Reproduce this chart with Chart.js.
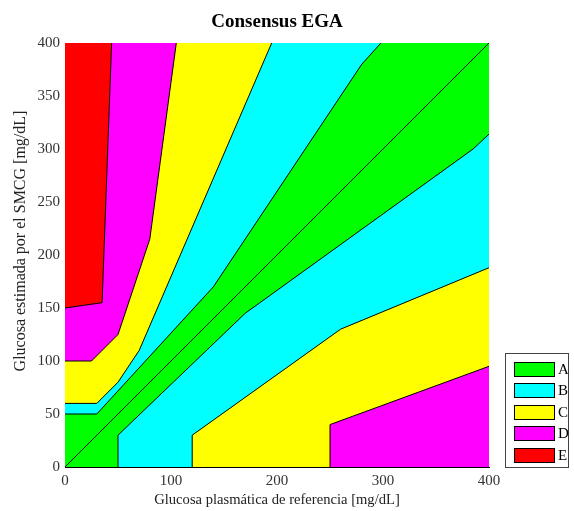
<!DOCTYPE html>
<html>
<head>
<meta charset="utf-8">
<script src="https://cdn.jsdelivr.net/npm/chart.js@4"></script>
<style>html,body{margin:0;padding:0;background:#fff;}canvas{display:block;}</style>
</head>
<body>
<canvas id="c" width="574" height="511"></canvas>
<script>
const zoneNames = ['A', 'B', 'C', 'D', 'E'];
const zoneColors = ['#00ff00', '#00ffff', '#ffff00', '#ff00ff', '#ff0000'];
const xTicks = [0, 100, 200, 300, 400];
const yTicks = [0, 50, 100, 150, 200, 250, 300, 350, 400];
const yTitle = 'Glucosa estimada por el SMCG [mg/dL]';

// zone boundaries [reference, sensor]
const upperA = [[0,50],[30,50],[140,170],[280,380],[298,400]];
const lowerA = [[50,0],[50,30],[170,145],[385,300],[400,314]];
const upperB = [[0,60],[30,60],[50,80],[70,110],[195,400]];
const lowerB = [[120,0],[120,30],[260,130],[400,188]];
const upperC = [[0,100],[25,100],[50,125],[80,215],[105,400]];
const lowerC = [[250,0],[250,40],[400,95]];
const upperD = [[0,150],[35,155],[44,400]];
const fullTop = [[0,400],[400,400]];
const identity = [[0,0],[400,400]];

const pts = a => a.map(p => ({x: p[0], y: p[1]}));
const zone = (data, color, fill, bw) => ({
  data: pts(data), showLine: true, fill: fill, backgroundColor: color,
  borderColor: '#000', borderWidth: bw, pointRadius: 0, tension: 0
});

// first dataset is drawn on top
const datasets = [
  zone(identity, 'rgba(0,0,0,0)', false, 1),
  zone(upperD, zoneColors[4], 'end', 1),
  zone(upperC, zoneColors[3], 'end', 1),
  zone(lowerC, zoneColors[3], 'start', 1),
  zone(upperB, zoneColors[2], 'end', 1),
  zone(lowerB, zoneColors[2], 'start', 1),
  zone(upperA, zoneColors[1], 'end', 1),
  zone(lowerA, zoneColors[1], 'start', 1),
  zone(fullTop, zoneColors[0], 'start', 0)
];

const extras = {
  id: 'extras',
  afterDraw(chart) {
    const ctx = chart.ctx;
    ctx.save();
    // y axis title
    ctx.save();
    ctx.translate(21, 241);
    ctx.rotate(-Math.PI / 2);
    ctx.font = '16px "Liberation Serif", serif';
    ctx.fillStyle = '#222';
    ctx.textAlign = 'center';
    ctx.textBaseline = 'middle';
    ctx.fillText(yTitle, 0, 0);
    ctx.restore();
    // legend
    ctx.fillStyle = '#fff';
    ctx.strokeStyle = '#444';
    ctx.lineWidth = 1;
    ctx.fillRect(505.5, 353.5, 63, 114);
    ctx.strokeRect(505.5, 353.5, 63, 114);
    ctx.font = '15px "Liberation Serif", serif';
    ctx.textBaseline = 'middle';
    ctx.textAlign = 'left';
    zoneNames.forEach((n, i) => {
      const y = Math.round(361.5 + i * 21.5);
      ctx.fillStyle = zoneColors[i];
      ctx.fillRect(514, y, 41, 15);
      ctx.strokeStyle = '#000';
      ctx.strokeRect(514.5, y + 0.5, 40, 14);
      ctx.fillStyle = '#000';
      ctx.fillText(n, 558, y + 8);
    });
    ctx.restore();
  }
};

new Chart(document.getElementById('c'), {
  type: 'scatter',
  data: { datasets },
  options: {
    responsive: false,
    animation: false,
    layout: { padding: { left: 0, right: 85, top: 0, bottom: 0 } },
    plugins: {
      legend: { display: false },
      tooltip: { enabled: false },
      title: {
        display: true, text: 'Consensus EGA', color: '#000', fullSize: false,
        font: { family: '"Liberation Serif", serif', size: 19, weight: 'bold' },
        padding: { top: 11, bottom: 9.2 }
      },
      filler: { propagate: false }
    },
    scales: {
      x: {
        type: 'linear', min: 0, max: 400,
        afterFit: s => { s.height = 44; },
        afterBuildTicks: s => { s.ticks = xTicks.map(v => ({value: v})); },
        grid: { display: false, drawTicks: false },
        border: { display: true, color: '#000', width: 1 },
        ticks: { color: '#333', padding: 5, font: { family: '"Liberation Serif", serif', size: 15 } },
        title: {
          display: true, text: 'Glucosa plasmática de referencia [mg/dL]', color: '#222',
          font: { family: '"Liberation Serif", serif', size: 14.6 }, padding: { top: 0, bottom: 2 }
        }
      },
      y: {
        type: 'linear', min: 0, max: 400,
        afterFit: s => { s.width = 65; },
        afterBuildTicks: s => { s.ticks = yTicks.map(v => ({value: v})); },
        grid: { display: false, drawTicks: false },
        border: { display: true, color: '#000', width: 1 },
        ticks: { color: '#333', padding: 5, font: { family: '"Liberation Serif", serif', size: 15 } },
        title: { display: false }
      }
    }
  },
  plugins: [extras]
});
</script>
</body>
</html>
